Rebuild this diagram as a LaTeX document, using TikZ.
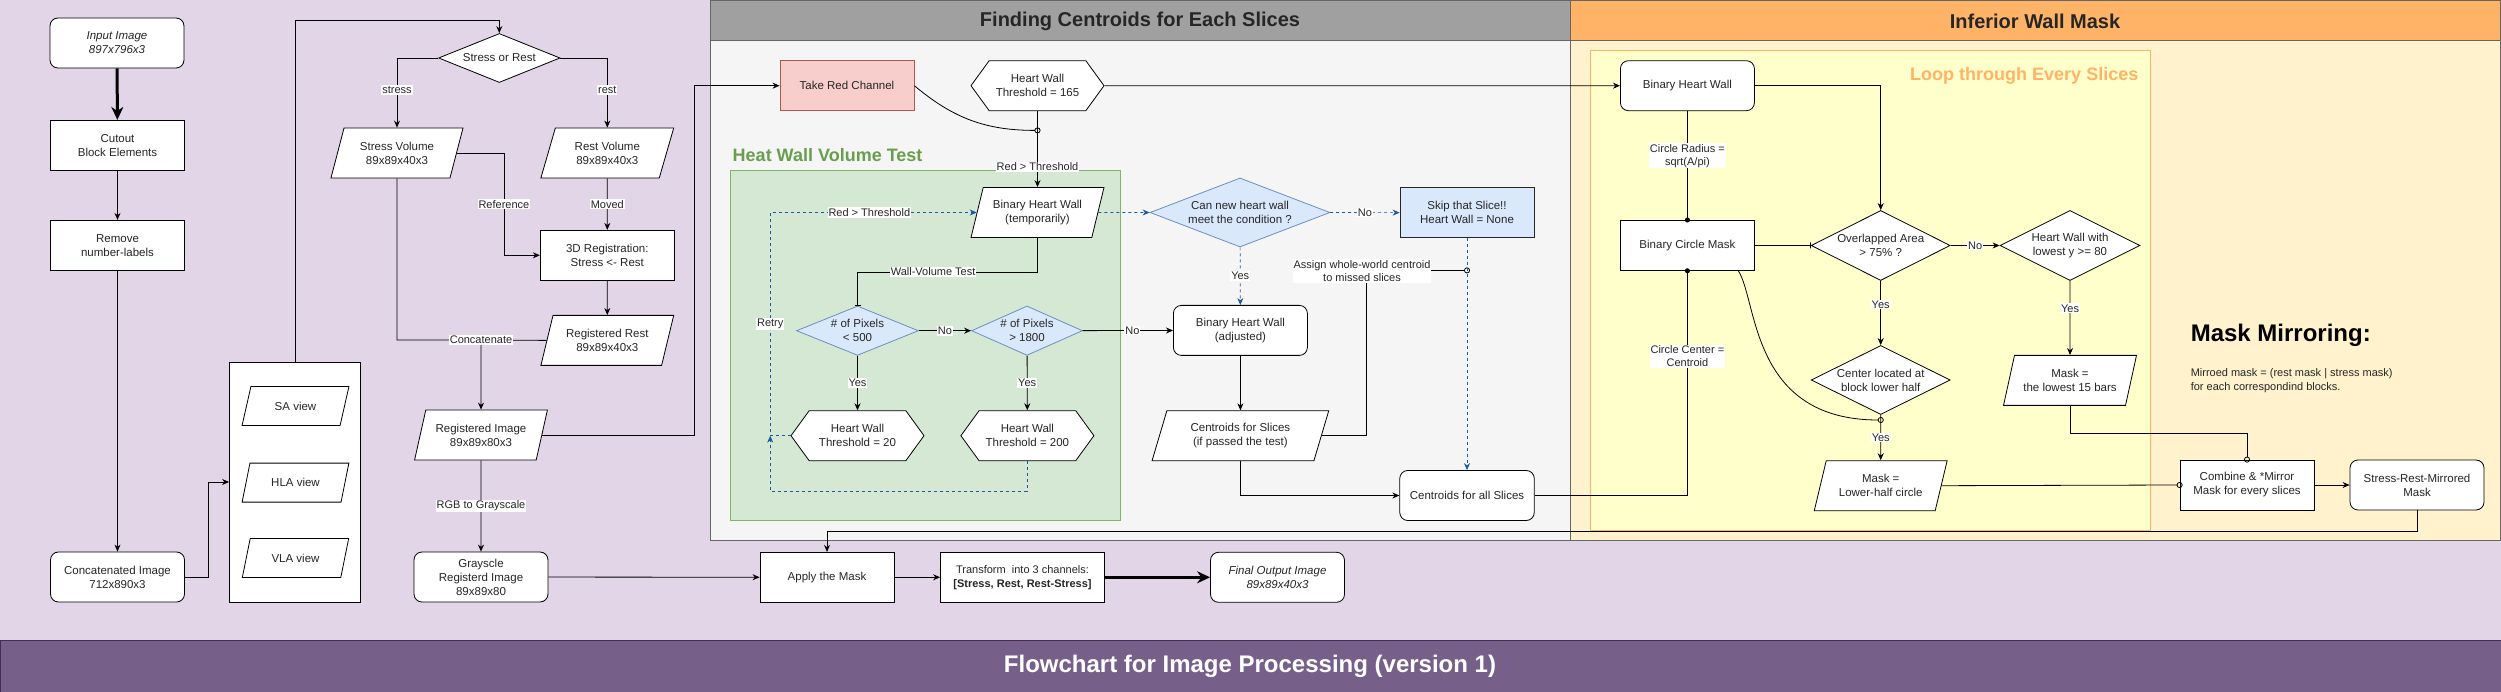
\documentclass[tikz,border=0pt]{standalone}
\usepackage{fontspec}
\setmainfont{Liberation Sans}
\usetikzlibrary{shapes.geometric}
\usetikzlibrary{shapes.symbols}
\usetikzlibrary{arrows.meta}

\definecolor{bgpurple}{HTML}{E1D5E7}
\definecolor{bandpurple}{HTML}{76608A}
\definecolor{banddark}{HTML}{432D57}
\definecolor{panelgray}{HTML}{F5F5F5}
\definecolor{headgray}{HTML}{A0A0A0}
\definecolor{edgegray}{HTML}{666666}
\definecolor{headorange}{HTML}{FFB366}
\definecolor{panelcream}{HTML}{FFF2CC}
\definecolor{loopyellow}{HTML}{FFFFCC}
\definecolor{testgreen}{HTML}{D5E8D4}
\definecolor{testgreenline}{HTML}{82B366}
\definecolor{testgreentext}{HTML}{6A9E4F}
\definecolor{decblue}{HTML}{DAE8FC}
\definecolor{decblueline}{HTML}{6C8EBF}
\definecolor{flowblue}{HTML}{1A5A9E}
\definecolor{redfill}{HTML}{F8CECC}
\definecolor{redline}{HTML}{B85450}
\definecolor{textgray}{HTML}{262626}

\tikzset{
  base/.style={draw, fill=white, align=center, inner sep=2pt, text=textgray,
    font=\fontsize{11.5}{14}\selectfont},
  box/.style={base, rectangle, minimum width=134pt, minimum height=50pt},
  rbox/.style={box, rounded corners=8pt},
  para/.style={base, trapezium, trapezium left angle=70, trapezium right angle=110,
    trapezium stretches=true, minimum width=133pt, minimum height=50pt},
  hexa/.style={base, signal, signal to=west and east, signal pointer angle=108,
    minimum width=133pt, minimum height=50pt},
  decide/.style={base, diamond, inner sep=0pt, aspect=2.5},
  bluedec/.style={decide, fill=decblue, draw=decblueline},
  lbl/.style={fill=white, inner sep=1pt, text=textgray, font=\fontsize{11}{13}\selectfont},
  arr/.style={->},
  dasharr/.style={->, draw=flowblue, dashed, line width=0.7pt},
  thickarr/.style={-{Stealth[length=13pt,width=12pt]}, line width=3pt},
  dotend/.style={-{Circle[length=5pt]}, shorten >=-2.5pt},
  ringend/.style={-{Circle[open,length=6pt]}, shorten >=-3pt},
  barend/.style={-{Bar[width=6pt]}},
}

\begin{document}
\begin{tikzpicture}[x=1pt, y=-1pt, line width=0.8pt, >={Stealth[length=7pt,width=6pt]}]
\useasboundingbox (0,0) rectangle (2501,692);
% panels
\fill[bgpurple] (0,0) rectangle (2501,640);
\filldraw[fill=bandpurple, draw=banddark] (0,640) rectangle (2501,692);
\filldraw[fill=panelgray, draw=edgegray] (710,0) rectangle (1570.7,540);
\filldraw[fill=headgray, draw=edgegray] (710,0) rectangle (1570.7,40);
\filldraw[fill=panelcream, draw=edgegray] (1570.7,0) rectangle (2500,540);
\filldraw[fill=headorange, draw=edgegray] (1570.7,0) rectangle (2500,40);
\filldraw[fill=loopyellow, draw=headorange] (1590.5,50.7) rectangle (2150.7,530);
\filldraw[fill=testgreen, draw=testgreenline] (730,170.7) rectangle (1120.6,520.4);

% titles
\node[font=\bfseries\fontsize{20}{24}\selectfont, text=textgray] (centtitle) at (1140,21) {Finding Centroids for Each Slices};
\node[font=\bfseries\fontsize{20}{24}\selectfont, text=textgray] (inftitle) at (2035,21) {Inferior Wall Mask};
\node[font=\bfseries\fontsize{18}{22}\selectfont, text=testgreentext, anchor=west] (testtitle) at (729,155) {Heat Wall Volume Test};
\node[font=\bfseries\fontsize{18}{22}\selectfont, text=headorange, anchor=east] (looptitle) at (2142,76) {Loop through Every Slices};
\node[font=\bfseries\fontsize{24}{28}\selectfont, text=white] (maintitle) at (1250,666) {Flowchart for Image Processing (version 1)};
\node[font=\bfseries\fontsize{24}{28}\selectfont, anchor=west] (mmtitle) at (2187,335) {Mask Mirroring:};
\node[anchor=north west, align=left, text=textgray, font=\fontsize{11}{14}\selectfont] (mmtext) at (2187,365) {Mirroed mask = (rest mask | stress mask)\\for each correspondind blocks.};

% left column
\node[rbox, font=\itshape\fontsize{11.5}{14}\selectfont] (inimg) at (117,43) {Input Image\\897x796x3};
\node[box] (cutout) at (117.5,145.3) {Cutout\\Block Elements};
\node[box] (remlab) at (117.5,245.3) {Remove\\number-labels};
\node[rbox] (concat) at (117.5,577) {Concatenated Image\\712x890x3};
\node[box, minimum width=131pt, minimum height=240pt] (views) at (295,482) {};
\node[para, minimum width=107pt, minimum height=39pt] (saview) at (295.5,406) {SA view};
\node[para, minimum width=107pt, minimum height=39pt] (hlaview) at (295.5,482.6) {HLA view};
\node[para, minimum width=107pt, minimum height=39pt] (vlaview) at (295.5,558) {VLA view};
\node[decide, minimum width=121.5pt, minimum height=49pt] (stressrest) at (499.3,58) {Stress or Rest};
\node[para] (stressvol) at (397,153) {Stress Volume\\89x89x40x3};
\node[para] (restvol) at (607.3,153) {Rest Volume\\89x89x40x3};
\node[box] (reg3d) at (607.3,255.3) {3D Registration:\\Stress <- Rest};
\node[para] (regrest) at (607.3,340.4) {Registered Rest\\89x89x40x3};
\node[para] (regimg) at (481,435) {Registered Image\\89x89x80x3};
\node[rbox] (grayimg) at (481,577) {Grayscle\\Registerd Image\\89x89x80};

% centroids
\node[box, fill=redfill, draw=redline] (redch) at (847,85.7) {Take Red Channel};
\node[hexa] (hw165) at (1037.5,85.7) {Heart Wall\\Threshold = 165};
\node[para] (bhwtemp) at (1037.5,212.5) {Binary Heart Wall\\(temporarily)};
\node[bluedec, minimum width=180pt, minimum height=69pt, aspect=2.6] (cannew) at (1240,212.5) {Can new heart wall\\meet the condition ?};
\node[box, fill=decblue, draw=textgray] (skip) at (1467,212.7) {Skip that Slice!!\\Heart Wall = None};
\node[rbox] (bhwadj) at (1240.4,330.4) {Binary Heart Wall\\(adjusted)};
\node[bluedec, minimum width=122pt, minimum height=49.4pt] (pix500) at (857.5,330.7) {\# of Pixels\\< 500};
\node[bluedec, minimum width=111pt, minimum height=49.4pt, aspect=2.2] (pix1800) at (1027,330.7) {\# of Pixels\\> 1800};
\node[hexa] (hw20) at (857.5,435.7) {Heart Wall\\Threshold = 20};
\node[hexa] (hw200) at (1027.4,435.7) {Heart Wall\\Threshold = 200};
\node[para, minimum width=177pt] (centsl) at (1240.4,435.7) {Centroids for Slices\\(if passed the test)};
\node[rbox, minimum width=134.5pt] (centall) at (1467,495.5) {Centroids for all Slices};

% inferior wall mask
\node[rbox] (bhw) at (1687.4,85.7) {Binary Heart Wall};
\node[box] (bcm) at (1687.4,245.4) {Binary Circle Mask};
\node[decide, minimum width=139pt, minimum height=70pt, aspect=2] (overlap) at (1880.7,245.5) {Overlapped Area\\> 75\% ?};
\node[decide, minimum width=140pt, minimum height=70pt, aspect=2] (lowy) at (2070,245.5) {Heart Wall with\\lowest y >= 80};
\node[decide, minimum width=139pt, minimum height=69pt, aspect=2] (lowhalf) at (1880.7,380) {Center located at\\block lower half};
\node[para] (masklow) at (1880.7,485.7) {Mask =\\Lower-half circle};
\node[para] (mask15) at (2070,380.4) {Mask =\\the lowest 15 bars};
\node[box] (combine) at (2247,485) {Combine \& *Mirror\\Mask for every slices};
\node[rbox] (srm) at (2417,485) {Stress-Rest-Mirrored\\Mask};

% bottom row
\node[box] (apply) at (827,577.3) {Apply the Mask};
\node[box, minimum width=164pt, font=\fontsize{11}{14}\selectfont] (transf) at (1022.5,577.3) {Transform~ into 3 channels:\\\textbf{[Stress, Rest, Rest-Stress]}};
\node[rbox, font=\itshape\fontsize{11.5}{14}\selectfont] (final) at (1277.5,577.3) {Final Output Image\\89x89x40x3};

\coordinate (jred) at (1037.5,130.4);
\coordinate (jskip) at (1467,270.4);
\coordinate (jlow) at (1880.7,420);
\coordinate (jretry) at (770.2,435.7);
\coordinate (concatpt) at (481,340);

% left connectors
\draw[thickarr] (inimg) -- (cutout);
\draw[arr] (cutout) -- (remlab);
\draw[arr] (remlab) -- (concat);
\draw[arr] (concat.east) -- ++(23,0) |- (views.west);
\draw[arr] (views.north) |- ([yshift=13pt]stressrest.north) -- (stressrest.north);
\draw[arr] (stressrest.west) -| node[lbl, pos=0.73] {stress} (stressvol.north);
\draw[arr] (stressrest.east) -| node[lbl, pos=0.73] {rest} (restvol.north);
\draw[arr] (restvol) -- node[lbl] {Moved} (reg3d);
\draw[arr] (stressvol.east) -- ++(47,0) |- node[lbl, pos=0.25] {Reference} (reg3d.west);
\draw[arr] (reg3d) -- (regrest);
\draw (stressvol.south) |- (concatpt) -- (regrest.west);
\draw[arr] (concatpt) -- (regimg.north);
\node[lbl] (concatlbl) at (concatpt) {Concatenate};
\draw[arr] (regimg.east) -- ++(152,0) |- (redch.west);
\draw[arr] (regimg) -- node[lbl] {RGB to Grayscale} (grayimg);
\draw[arr] (grayimg) -- (apply);
\draw[arr] (apply) -- (transf);
\draw[thickarr] (transf) -- (final);

% centroid connectors
\draw[ringend] (redch.east) to[out=-40, in=180] (jred);
\draw[arr] (hw165) -- node[lbl, pos=0.73] {Red > Threshold} (bhwtemp);
\draw[arr] (hw165) -- (bhw);
\draw[dasharr] (bhwtemp.east) -- (cannew.west);
\draw[dasharr] (cannew) -- node[lbl] {No} (skip);
\draw[dasharr] (cannew) -- node[lbl] {Yes} (bhwadj);
\draw[barend] (bhwtemp.south) -- ++(0,34) -| node[lbl, pos=0.29] {Wall-Volume Test} (pix500.north);
\draw[arr] (pix500) -- node[lbl] {No} (pix1800);
\draw[arr] (pix1800) -- node[lbl, pos=0.55] {No} (bhwadj);
\draw[arr] (pix500) -- node[lbl] {Yes} (hw20);
\draw[arr] (pix1800) -- node[lbl] {Yes} (hw200);
\draw[dasharr] (hw200.south) -- ++(0,30) -| (jretry);
\draw[dasharr] (hw20.west) -- (jretry) |- node[lbl, pos=0.25] {Retry} node[lbl, pos=0.74] {Red > Threshold} (bhwtemp.west);
\draw[arr] (bhwadj) -- (centsl);
\draw[ringend] (centsl.east) -- ++(44.5,0) |- (jskip);
\node[lbl, align=center] (assignlbl) at (1362,271) {Assign whole-world centroid\\to missed slices};
\draw[dasharr] (skip) -- (centall);
\draw[arr] (centsl.south) |- (centall.west);

% inferior wall mask connectors
\draw[dotend] (centall.east) -| node[lbl, pos=0.81, align=center] {Circle Center =\\Centroid} (bcm.south);
\draw[dotend] (bhw) -- node[lbl, pos=0.41, align=center] {Circle Radius =\\sqrt(A/pi)} (bcm);
\draw[arr] (bhw.east) -| (overlap.north);
\draw[barend] (bcm) -- (overlap);
\draw[arr] (overlap) -- node[lbl] {No} (lowy);
\draw[arr] (overlap) -- node[lbl, pos=0.37] {Yes} (lowhalf);
\draw[arr] (lowhalf) -- node[lbl, pos=0.5] {Yes} (masklow);
\draw[ringend] ([xshift=-16.5pt]bcm.south east) .. controls ([xshift=3pt,yshift=-30pt]bcm.south east) and (1750,420) .. (jlow);
\draw[arr] (lowy) -- node[lbl, pos=0.37] {Yes} (mask15);
\draw[ringend] (mask15.south) -- ++(0,27.5) -| (combine.north);
\draw[ringend] (masklow.east) -- (combine.west);
\draw[arr] (combine) -- (srm);
\draw[arr] (srm.south) -- ++(0,21) -| (apply.north);
\end{tikzpicture}
\end{document}
